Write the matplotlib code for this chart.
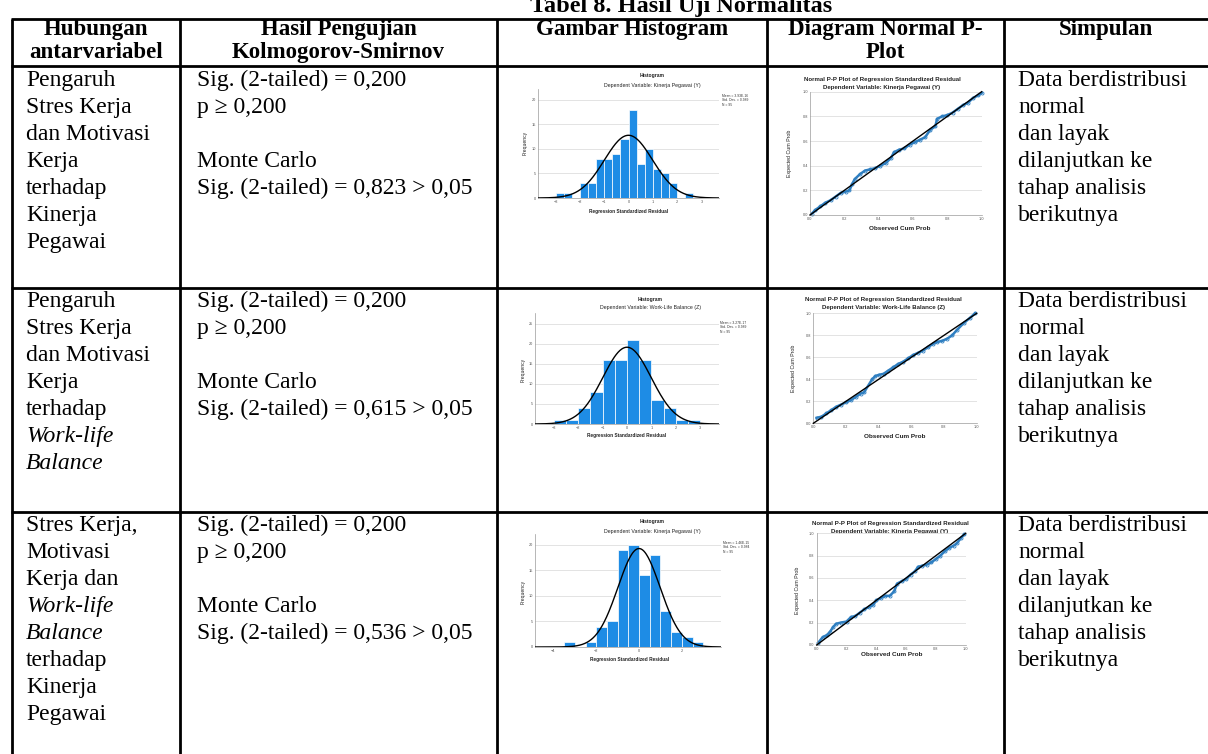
import numpy as np
import matplotlib
matplotlib.use("Agg")
import matplotlib.pyplot as plt

# ---------------- data ----------------
title = "Tabel 8. Hasil Uji Normalitas"
headers = [["Hubungan", "antarvariabel"],
           ["Hasil Pengujian", "Kolmogorov-Smirnov"],
           ["Gambar Histogram"],
           ["Diagram Normal P-", "Plot"],
           ["Simpulan"]]
relations = [
    ["Pengaruh", "Stres Kerja", "dan Motivasi", "Kerja", "terhadap", "Kinerja", "Pegawai"],
    ["Pengaruh", "Stres Kerja", "dan Motivasi", "Kerja", "terhadap", "Work-life", "Balance"],
    ["Stres Kerja,", "Motivasi", "Kerja dan", "Work-life", "Balance", "terhadap", "Kinerja", "Pegawai"],
]
italic_words = ["Work-life", "Balance"]
ks_sig = ["0,200", "0,200", "0,200"]
ks_p = ["0,200", "0,200", "0,200"]
mc_sig = ["0,823", "0,615", "0,536"]
alpha = "0,05"
conclusion = ["Data berdistribusi", "normal", "dan layak", "dilanjutkan ke", "tahap analisis", "berikutnya"]
dep_vars = ["Kinerja Pegawai (Y)", "Work-Life Balance (Z)", "Kinerja Pegawai (Y)"]

hist_means = ["3.93E-16", "3.27E-17", "1.46E-15"]
hist_sds = [0.989, 0.989, 0.984]
hist_n = [95, 95, 95]

hist1_left = [-3.0, -2.667, -2.333, -2.0, -1.667, -1.333, -1.0, -0.667, -0.333, 0.0, 0.333, 0.667, 1.0, 1.333, 1.667, 2.0, 2.333]
hist1_counts = [1, 1, 0, 3, 3, 8, 8, 9, 12, 18, 7, 10, 6, 5, 3, 0, 1]
hist1_width = 0.3333

hist2_left = [-3.0, -2.5, -2.0, -1.5, -1.0, -0.5, 0.0, 0.5, 1.0, 1.5, 2.0, 2.5]
hist2_counts = [1, 1, 4, 8, 16, 16, 21, 16, 6, 4, 1, 1]
hist2_width = 0.5

hist3_left = [-3.5, -3.0, -2.5, -2.0, -1.5, -1.0, -0.5, 0.0, 0.5, 1.0, 1.5, 2.0, 2.5]
hist3_counts = [1, 0, 1, 4, 5, 19, 20, 14, 18, 7, 3, 2, 1]
hist3_width = 0.5

pp1_obs = [0.01, 0.03, 0.06, 0.09, 0.12, 0.15, 0.18, 0.21, 0.23, 0.245, 0.26, 0.29, 0.32, 0.35, 0.38, 0.41, 0.44, 0.47, 0.49,
           0.52, 0.55, 0.58, 0.61, 0.64, 0.67, 0.70, 0.73, 0.74, 0.77, 0.80, 0.83, 0.86, 0.89, 0.92, 0.95, 0.98, 1.00]
pp1_exp = [0.01, 0.04, 0.07, 0.10, 0.12, 0.15, 0.18, 0.19, 0.20, 0.25, 0.29, 0.33, 0.36, 0.37, 0.38, 0.40, 0.42, 0.46, 0.51,
           0.53, 0.54, 0.57, 0.59, 0.61, 0.63, 0.69, 0.72, 0.78, 0.80, 0.81, 0.83, 0.86, 0.89, 0.91, 0.95, 0.97, 0.99]

pp2_obs = [0.02, 0.05, 0.08, 0.11, 0.14, 0.17, 0.20, 0.23, 0.26, 0.29, 0.31, 0.36, 0.38, 0.40, 0.43, 0.46, 0.49, 0.52, 0.55,
           0.58, 0.61, 0.64, 0.67, 0.70, 0.73, 0.76, 0.79, 0.82, 0.85, 0.88, 0.92, 0.96, 0.99]
pp2_exp = [0.05, 0.06, 0.09, 0.12, 0.15, 0.17, 0.19, 0.21, 0.24, 0.27, 0.28, 0.40, 0.43, 0.44, 0.45, 0.48, 0.51, 0.54, 0.56,
           0.59, 0.62, 0.64, 0.66, 0.69, 0.72, 0.74, 0.75, 0.77, 0.80, 0.85, 0.91, 0.96, 1.00]

pp3_obs = [0.01, 0.04, 0.07, 0.09, 0.11, 0.13, 0.16, 0.20, 0.23, 0.26, 0.29, 0.32, 0.35, 0.38, 0.40, 0.43, 0.46, 0.49,
           0.52, 0.54, 0.57, 0.60, 0.63, 0.66, 0.68, 0.71, 0.74, 0.77, 0.80, 0.83, 0.86, 0.89, 0.92, 0.94, 0.97, 0.99]
pp3_exp = [0.02, 0.07, 0.09, 0.12, 0.16, 0.19, 0.20, 0.21, 0.25, 0.26, 0.29, 0.32, 0.34, 0.36, 0.40, 0.42, 0.44, 0.44,
           0.48, 0.55, 0.57, 0.59, 0.63, 0.66, 0.70, 0.71, 0.72, 0.74, 0.77, 0.80, 0.84, 0.87, 0.89, 0.91, 0.96, 0.99]

# ---------------- layout ----------------
W, H = 1208, 754
fig = plt.figure(figsize=(W / 100, H / 100), dpi=100)
ov = fig.add_axes([0, 0, 1, 1])
ov.set_xlim(0, W)
ov.set_ylim(H, 0)
ov.axis("off")

SERIF = "Liberation Serif"
SANS = "Liberation Sans"
BLUE = "#1e8ce5"
PPBLUE = "#2f7fc1"

col_x = [12, 180, 497, 767, 1004, 1210]
row_y = [19, 66, 288, 512]
LW = 2.0

for x in col_x[:-1]:
    ov.plot([x, x], [row_y[0], H + 5], color="black", lw=LW, solid_capstyle="butt", clip_on=False)
for y in row_y:
    ov.plot([col_x[0] - 1, W + 5], [y, y], color="black", lw=LW, solid_capstyle="butt", clip_on=False)

# title (cut at top)
ov.text(681, 12, title, fontsize=17.5, fontweight="bold", family=SERIF, ha="center", va="baseline")

# headers
head_base = [35, 58]
for i, lines in enumerate(headers):
    cx = (col_x[i] + col_x[i + 1]) / 2
    if i == 4:
        cx = (col_x[4] + 1208) / 2
    for j, t in enumerate(lines):
        ov.text(cx, head_base[j], t, fontsize=16.5, fontweight="bold", family=SERIF, ha="center", va="baseline")

LS = 27.0
first_base = [86, 307, 531]
for r in range(3):
    b0 = first_base[r]
    for k, t in enumerate(relations[r]):
        ov.text(26, b0 + k * LS, t, fontsize=17, family=SERIF,
                style="italic" if t in italic_words else "normal", ha="left", va="baseline")
    col2 = [f"Sig. (2-tailed) = {ks_sig[r]}", f"p \u2265 {ks_p[r]}", "", "Monte Carlo",
            f"Sig. (2-tailed) = {mc_sig[r]} > {alpha}"]
    for k, t in enumerate(col2):
        ov.text(197, b0 + k * LS, t, fontsize=17, family=SERIF, ha="left", va="baseline")
    for k, t in enumerate(conclusion):
        ov.text(1018, b0 + k * LS, t, fontsize=17, family=SERIF, ha="left", va="baseline")


def px_axes(x0, y0, x1, y1):
    return fig.add_axes([x0 / W, 1 - y1 / H, (x1 - x0) / W, (y1 - y0) / H])


def style_small(ax):
    for s in ["top", "right"]:
        ax.spines[s].set_visible(False)
    for s in ["left", "bottom"]:
        ax.spines[s].set_color("#9a9a9a")
        ax.spines[s].set_linewidth(0.5)
    ax.tick_params(length=0, labelsize=2.8, colors="#555555", pad=1.5)
    ax.yaxis.grid(True, color="#dedede", lw=0.6)
    ax.set_axisbelow(True)
    ax.set_facecolor("none")
    for lab in ax.get_xticklabels() + ax.get_yticklabels():
        lab.set_family(SANS)


hists = [
    dict(left=hist1_left, counts=hist1_counts, w=hist1_width, box=(538, 89, 719, 198), xlim=(-3.72, 3.72),
         ylim=(0, 22.2), xt=[-3, -2, -1, 0, 1, 2, 3], yt=[0, 5, 10, 15, 20],
         t1=(652, 76), t2=(652, 85), st=(722, 94), fq=(525, 143), xl=(629, 211)),
    dict(left=hist2_left, counts=hist2_counts, w=hist2_width, box=(535, 313, 719, 424), xlim=(-3.77, 3.77),
         ylim=(0, 27.7), xt=[-3, -2, -1, 0, 1, 2, 3], yt=[0, 5, 10, 15, 20, 25],
         t1=(650, 299), t2=(650, 307), st=(720, 321), fq=(523, 370), xl=(627, 436)),
    dict(left=hist3_left, counts=hist3_counts, w=hist3_width, box=(535, 534, 721, 647), xlim=(-4.86, 3.83),
         ylim=(0, 22.1), xt=[-4, -2, 0, 2], yt=[0, 5, 10, 15, 20],
         t1=(652, 522), t2=(652, 531), st=(723, 541), fq=(523, 592), xl=(630, 660)),
]

for i, h in enumerate(hists):
    ax = px_axes(*h["box"])
    ax.bar(h["left"], h["counts"], width=h["w"], align="edge", color=BLUE, edgecolor="white", linewidth=0.5, zorder=2)
    xs = np.linspace(h["xlim"][0], h["xlim"][1], 300)
    sd = hist_sds[i]
    curve = hist_n[i] * h["w"] * np.exp(-0.5 * (xs / sd) ** 2) / (sd * np.sqrt(2 * np.pi))
    ax.plot(xs, curve, color="black", lw=1.0, zorder=3)
    ax.set_xlim(*h["xlim"])
    ax.set_ylim(*h["ylim"])
    ax.set_xticks(h["xt"])
    ax.set_yticks(h["yt"])
    style_small(ax)
    ov.text(*h["t1"], "Histogram", fontsize=3.6, fontweight="bold", family=SANS, ha="center", va="center", color="#222")
    ov.text(*h["t2"], f"Dependent Variable: {dep_vars[i]}", fontsize=3.8, family=SANS, ha="center", va="center", color="#222")
    ov.text(*h["st"], f"Mean = {hist_means[i]}\nStd. Dev. = {hist_sds[i]:.3f}\nN = {hist_n[i]}",
            fontsize=2.4, family=SANS, ha="left", va="top", color="#333", linespacing=1.1)
    ov.text(*h["fq"], "Frequency", fontsize=3.6, family=SANS, ha="center", va="center", rotation=90, color="#222")
    ov.text(*h["xl"], "Regression Standardized Residual", fontsize=3.4, fontweight="bold", family=SANS,
            ha="center", va="center", color="#222")

pps = [
    dict(obs=pp1_obs, exp=pp1_exp, box=(810, 91.7, 981.7, 215), t1=(882, 79), t2=(882, 88), xl=(900, 228), yl=(790, 153)),
    dict(obs=pp2_obs, exp=pp2_exp, box=(813.3, 313.3, 976.7, 423.3), t1=(883, 300), t2=(883, 308), xl=(895, 437), yl=(793, 368)),
    dict(obs=pp3_obs, exp=pp3_exp, box=(816.7, 533.3, 965.7, 645), t1=(890, 523), t2=(890, 531), xl=(892, 655), yl=(798, 590)),
]
ticks01 = [0.0, 0.2, 0.4, 0.6, 0.8, 1.0]
for i, p in enumerate(pps):
    ax = px_axes(*p["box"])
    ax.plot(p["obs"], p["exp"], color=PPBLUE, lw=1.8, marker="o", ms=2.2, mfc="none", mew=0.6, zorder=2, clip_on=False)
    ax.plot([0, 1], [0, 1], color="black", lw=1.0, zorder=3, clip_on=False)
    ax.set_xlim(0, 1)
    ax.set_ylim(0, 1)
    ax.set_xticks(ticks01)
    ax.set_yticks(ticks01)
    ax.set_xticklabels([f"{t:.1f}" for t in ticks01])
    ax.set_yticklabels([f"{t:.1f}" for t in ticks01])
    style_small(ax)
    ov.text(*p["t1"], "Normal P-P Plot of Regression Standardized Residual", fontsize=4.4, fontweight="bold",
            family=SANS, ha="center", va="center", color="#222")
    ov.text(*p["t2"], f"Dependent Variable: {dep_vars[i]}", fontsize=4.4, fontweight="bold",
            family=SANS, ha="center", va="center", color="#222")
    ov.text(*p["xl"], "Observed Cum Prob", fontsize=4.6, fontweight="bold", family=SANS, ha="center", va="center", color="#222")
    ov.text(*p["yl"], "Expected Cum Prob", fontsize=3.8, family=SANS, ha="center", va="center", rotation=90, color="#222")

fig.savefig("out.png", dpi=100)
